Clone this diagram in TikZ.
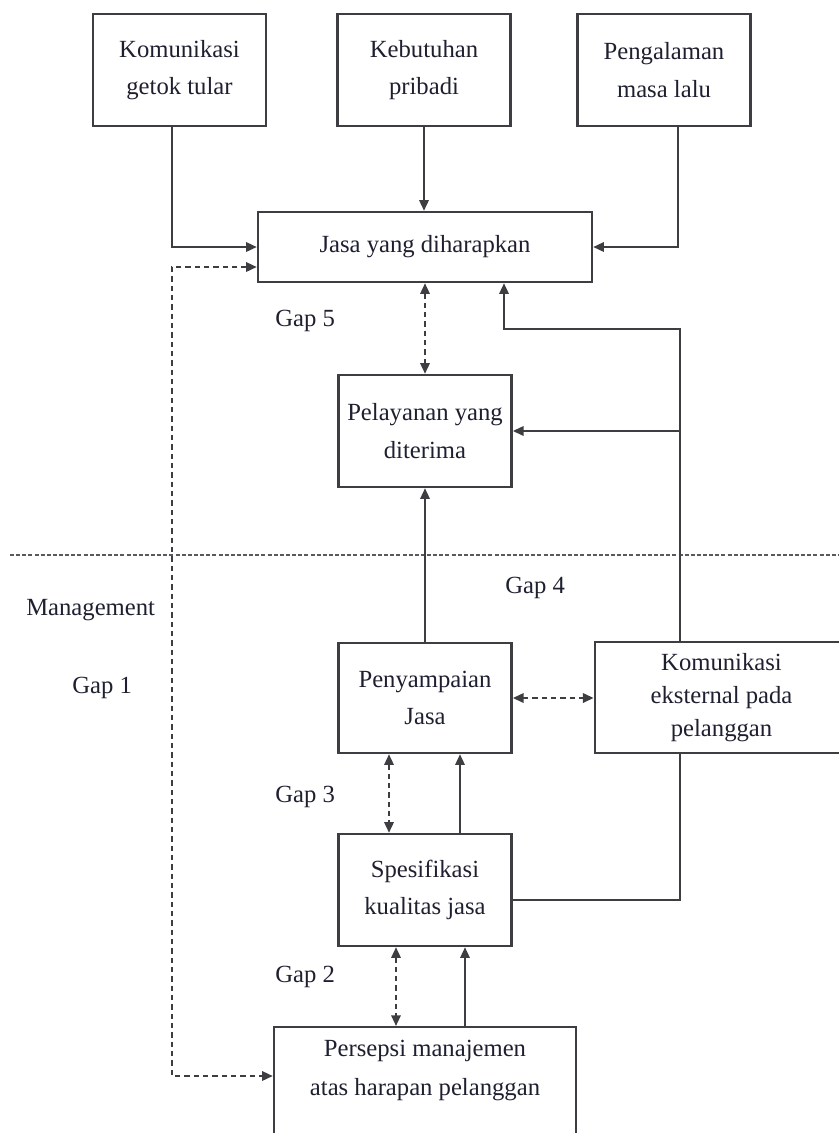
\documentclass[tikz,border=0pt]{standalone}
\usepackage{fontspec}
\setmainfont{Liberation Serif}
\usepackage{tikz}
\usetikzlibrary{arrows.meta, positioning}
\usepackage{xcolor}
\definecolor{linegray}{RGB}{62, 62, 66}
\definecolor{dividergray}{RGB}{90, 90, 94}
\definecolor{textdark}{RGB}{30, 32, 48}

\begin{document}
\begin{tikzpicture}[
    x=0.75pt, y=-0.75pt,
    box/.style={rectangle, draw=linegray, line width=1.8pt, minimum width=130pt, minimum height=84pt, align=center, inner sep=2pt, text=textdark, font=\fontsize{18.5}{28}\selectfont},
    gaplabel/.style={anchor=west, inner sep=0pt, text=textdark, font=\fontsize{18.5}{28}\selectfont},
    arr/.style={-{Triangle[length=8pt, width=7pt]}, line width=1.6pt, color=linegray},
    darr/.style={{Triangle[length=8pt, width=7pt]}-{Triangle[length=8pt, width=7pt]}, line width=1.6pt, color=linegray, dash pattern=on 4pt off 3pt},
    plain/.style={line width=1.6pt, color=linegray},
    divider/.style={line width=1.4pt, color=dividergray, dash pattern=on 3pt off 1.6pt},
]
\useasboundingbox (0,0) rectangle (839,1133);
\clip (0,0) rectangle (839,1133);

% Customer side
\node[box] (kom) at (179.5, 70) {Komunikasi\\getok tular};
\node[box] (keb) at (424, 70) {Kebutuhan\\pribadi};
\node[box] (peng) at (664, 70) {Pengalaman\\masa lalu};
\node[box, minimum width=250.5pt, minimum height=52.5pt] (jasa) at (425, 247) {Jasa yang diharapkan};
\node[box] (pel) at (425, 431) {Pelayanan yang\\diterima};

% Divider
\draw[divider] (10, 555) -- (839, 555);

% Management side
\node[box, minimum height=82.5pt] (peny) at (425, 698) {Penyampaian\\Jasa};
\node[box, minimum width=190pt, minimum height=83pt, font=\fontsize{18.5}{25}\selectfont] (komeks) at (721.5, 697.5) {Komunikasi\\eksternal pada\\pelanggan};
\node[box] (spes) at (425, 890) {Spesifikasi\\kualitas jasa};
\node[box, anchor=north, minimum width=226.5pt, minimum height=97.5pt] (persepsi) at (425, 1026) {};
\node[anchor=north, inner sep=0pt, align=center, text=textdark, font=\fontsize{18.5}{29}\selectfont, below=10.5pt of persepsi.north] (persepsitext) {Persepsi manajemen\\atas harapan pelanggan};

% Labels
\node[gaplabel] (gap5) at (275, 321) {Gap 5};
\node[gaplabel] (gap4) at (505, 588) {Gap 4};
\node[gaplabel] (mgmt) at (26, 610) {Management};
\node[gaplabel] (gap1) at (72, 688) {Gap 1};
\node[gaplabel] (gap3) at (275, 797) {Gap 3};
\node[gaplabel] (gap2) at (275, 977) {Gap 2};

% Helper points
\coordinate (k1) at (172, 247);
\coordinate (p1) at (678, 247);
\coordinate (g1top) at (172, 267);
\coordinate (g1bot) at (172, 1076);
\coordinate (fb) at (680, 329);
\coordinate (fbx) at (504, 329);
\coordinate (sp) at (680, 900);
\coordinate (x3d) at (389, 0);
\coordinate (x3s) at (460, 0);
\coordinate (x2d) at (396, 0);
\coordinate (x2s) at (465, 0);

% Arrows
\draw[arr] (k1 |- kom.south) -- (k1) -- (jasa.west);
\draw[arr] (keb.south) -- (keb.south |- jasa.north);
\draw[arr] (p1 |- peng.south) -- (p1) -- (jasa.east);
\draw[darr] (g1top -| jasa.west) -- (g1top) -- (g1bot) -- (g1bot -| persepsi.west);
\draw[darr] (pel.north |- jasa.south) -- (pel.north);
\draw[arr] (fb |- komeks.north) -- (fb) -- (fbx) -- (fbx |- jasa.south);
\draw[arr] (fb |- pel.east) -- (pel.east);
\draw[arr] (peny.north) -- (peny.north |- pel.south);
\draw[darr] (peny.east) -- (peny.east -| komeks.west);
\draw[darr] (x3d |- peny.south) -- (x3d |- spes.north);
\draw[arr] (x3s |- spes.north) -- (x3s |- peny.south);
\draw[plain] (sp -| spes.east) -- (sp) -- (sp |- komeks.south);
\draw[darr] (x2d |- spes.south) -- (x2d |- persepsi.north);
\draw[arr] (x2s |- persepsi.north) -- (x2s |- spes.south);

\end{tikzpicture}
\end{document}
